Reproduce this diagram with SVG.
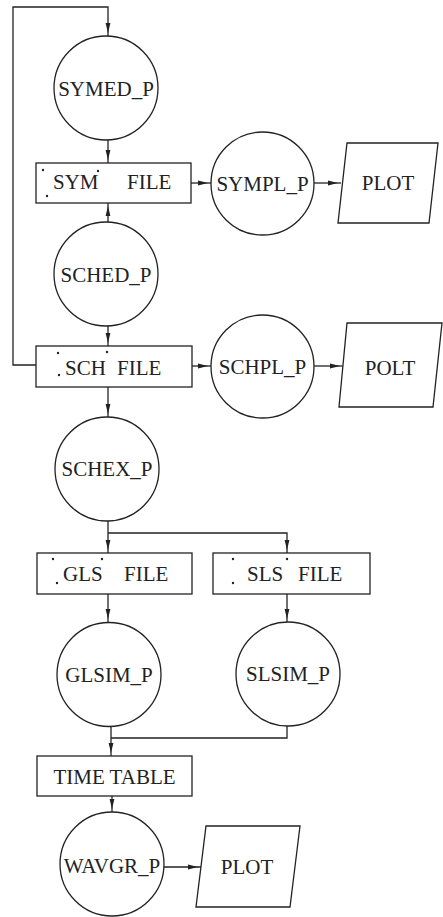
<svg xmlns="http://www.w3.org/2000/svg" width="443" height="917" viewBox="0 0 443 917">
  <style>
    .shape { fill: #ffffff; stroke: #222222; stroke-width: 1.3; }
    .conn { fill: none; stroke: #222222; stroke-width: 1.3; marker-end: url(#head); }
    .plain { fill: none; stroke: #222222; stroke-width: 1.3; }
    .dot { fill: #222222; stroke: none; }
    text { font-family: "Liberation Serif", "Times New Roman", serif; font-size: 21px; fill: #222222; }
    .mid { text-anchor: middle; }
  </style>
  <defs>
    <marker id="head" markerUnits="userSpaceOnUse" markerWidth="14" markerHeight="8" refX="13" refY="3" orient="auto">
      <path d="M0,0.6 L10,3 L0,5.4 Z" fill="#222222"/>
    </marker>
  </defs>

  <!-- connectors -->
  <g id="connectors">
    <path class="conn" d="M36 365 H13 V7 H108 V36"/>
    <path class="conn" d="M108 140 V163"/>
    <path class="conn" d="M108 222 V203"/>
    <path class="conn" d="M191 183 H211"/>
    <path class="conn" d="M314 183 H341"/>
    <path class="conn" d="M108 325 V346"/>
    <path class="conn" d="M192 366 H211"/>
    <path class="conn" d="M314 366 H343"/>
    <path class="conn" d="M108 387 V417"/>
    <path class="conn" d="M108 521 V553"/>
    <path class="conn" d="M108 533 H287 V553"/>
    <path class="conn" d="M108 594 V622"/>
    <path class="conn" d="M287 594 V622"/>
    <path class="conn" d="M111 727 V756"/>
    <path class="plain" d="M287 726 V738 H111"/>
    <path class="conn" d="M112 796 V812"/>
    <path class="conn" d="M164 867 H201"/>
  </g>

  <!-- processes -->
  <g id="symed_p">
    <circle class="shape" cx="106" cy="88" r="52"/>
    <text class="mid" x="106" y="96">SYMED_P</text>
  </g>
  <g id="sympl_p">
    <circle class="shape" cx="262.5" cy="183.5" r="51.5"/>
    <text class="mid" x="262.5" y="191">SYMPL_P</text>
  </g>
  <g id="sched_p">
    <circle class="shape" cx="106" cy="274" r="52"/>
    <text class="mid" x="106" y="282">SCHED_P</text>
  </g>
  <g id="schpl_p">
    <circle class="shape" cx="262.5" cy="366.5" r="51.5"/>
    <text class="mid" x="262.5" y="374">SCHPL_P</text>
  </g>
  <g id="schex_p">
    <circle class="shape" cx="107" cy="469" r="52"/>
    <text class="mid" x="107" y="476">SCHEX_P</text>
  </g>
  <g id="glsim_p">
    <circle class="shape" cx="109" cy="674.5" r="52"/>
    <text class="mid" x="109" y="682">GLSIM_P</text>
  </g>
  <g id="slsim_p">
    <circle class="shape" cx="288" cy="674" r="52"/>
    <text class="mid" x="288" y="681">SLSIM_P</text>
  </g>
  <g id="wavgr_p">
    <circle class="shape" cx="112" cy="864" r="52"/>
    <text class="mid" x="112" y="873">WAVGR_P</text>
  </g>

  <!-- files: the small dots mark the file-name extension -->
  <g id="sym_file">
    <rect class="shape" x="36" y="163" width="155" height="40"/>
    <circle class="dot" cx="43" cy="170" r="1.2"/>
    <circle class="dot" cx="98" cy="171" r="1.2"/>
    <circle class="dot" cx="47" cy="196" r="1.2"/>
    <text x="53" y="189">SYM</text>
    <text x="127" y="189">FILE</text>
  </g>
  <g id="sch_file">
    <rect class="shape" x="36" y="346" width="156" height="41"/>
    <circle class="dot" cx="58" cy="353" r="1.2"/>
    <circle class="dot" cx="107" cy="352" r="1.2"/>
    <circle class="dot" cx="59" cy="375" r="1.2"/>
    <text x="65" y="375">SCH</text>
    <text x="117" y="375">FILE</text>
  </g>
  <g id="gls_file">
    <rect class="shape" x="37" y="553" width="155" height="41"/>
    <circle class="dot" cx="53" cy="559" r="1.2"/>
    <circle class="dot" cx="102" cy="559" r="1.2"/>
    <circle class="dot" cx="57" cy="583" r="1.2"/>
    <text x="63" y="581">GLS</text>
    <text x="124" y="581">FILE</text>
  </g>
  <g id="sls_file">
    <rect class="shape" x="213" y="553" width="157" height="41"/>
    <circle class="dot" cx="233" cy="559" r="1.2"/>
    <circle class="dot" cx="287" cy="559" r="1.2"/>
    <circle class="dot" cx="233" cy="583" r="1.2"/>
    <text x="247" y="581">SLS</text>
    <text x="298" y="581">FILE</text>
  </g>
  <g id="time_table">
    <rect class="shape" x="37" y="756" width="155" height="40"/>
    <text class="mid" x="114.5" y="784">TIME TABLE</text>
  </g>

  <!-- plot outputs -->
  <g id="plot_sym">
    <polygon class="shape" points="347,143 438,143 429,223 338,223"/>
    <text class="mid" x="388" y="190">PLOT</text>
  </g>
  <g id="polt_sch">
    <polygon class="shape" points="347,323 442,323 433,407 339,407"/>
    <text class="mid" x="390" y="375">POLT</text>
  </g>
  <g id="plot_wave">
    <polygon class="shape" points="206,826 300,826 290,907 196,907"/>
    <text class="mid" x="247" y="874">PLOT</text>
  </g>
</svg>
